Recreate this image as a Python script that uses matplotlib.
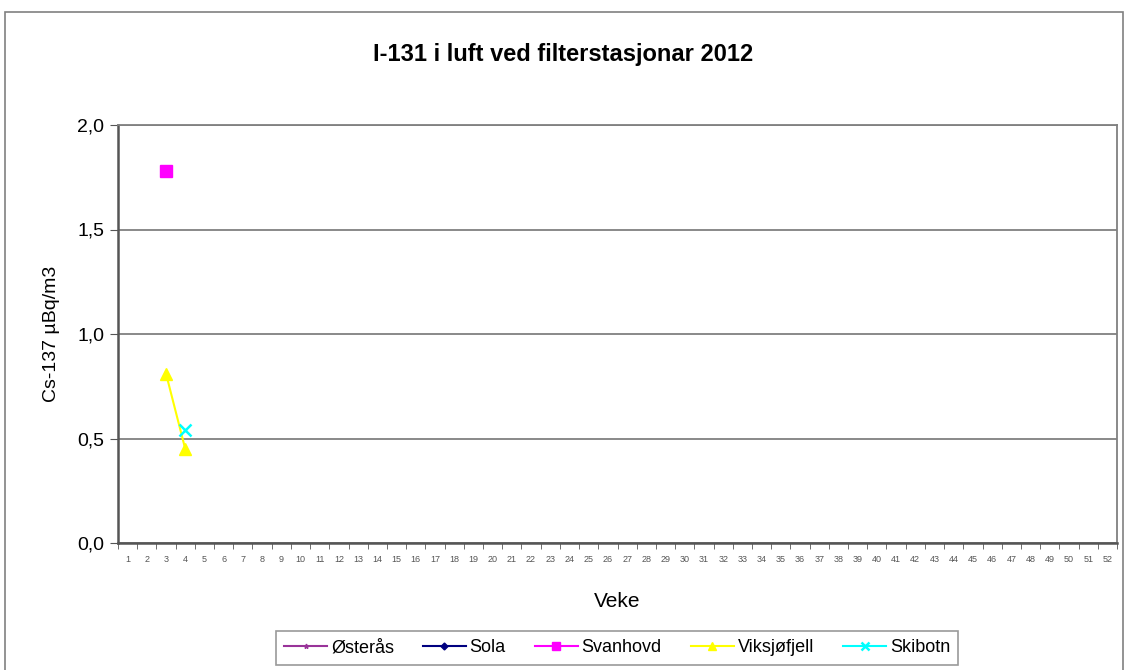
import matplotlib
matplotlib.use("Agg")
import matplotlib.pyplot as plt
from matplotlib.patches import Rectangle
import numpy as np

plt.rcParams["font.family"] = ["Liberation Sans", "DejaVu Sans"]

WEEKS = list(range(1, 53))
STATIONS = ["Østerås", "Sola", "Svanhovd", "Viksjøfjell", "Skibotn"]
COLORS = ["#993399", "#000080", "#ff00ff", "#ffff00", "#00ffff"]
MARKERS = ["*", "D", "s", "^", "x"]

# measured values per station: (weeks, values)
osteras_weeks, osteras_vals = [], []
sola_weeks, sola_vals = [], []
svanhovd_weeks, svanhovd_vals = [3], [1.78]
viksjofjell_weeks, viksjofjell_vals = [3, 4], [0.81, 0.45]
skibotn_weeks, skibotn_vals = [4], [0.54]

series = [
    (osteras_weeks, osteras_vals),
    (sola_weeks, sola_vals),
    (svanhovd_weeks, svanhovd_vals),
    (viksjofjell_weeks, viksjofjell_vals),
    (skibotn_weeks, skibotn_vals),
]

fig = plt.figure(figsize=(11.28, 6.70), dpi=100)
W, H = 1128, 670
ax = fig.add_axes([118 / W, 1 - 543 / H, (1117 - 118) / W, (543 - 125) / H])

# outer chart frame
fig.patches.append(Rectangle((5 / W, -0.05), (1123 - 5) / W, (1 - 12 / H) + 0.05,
                             transform=fig.transFigure, fill=False,
                             edgecolor="#808080", linewidth=1.2))

for name, color, marker, (wk, vals) in zip(STATIONS, COLORS, MARKERS, series):
    ms = 8 if marker in ("s", "^", "x") else 5
    ax.plot(wk, vals, color=color, marker=marker, markersize=ms,
            markeredgewidth=1.8 if marker == "x" else 1, linewidth=1.5, label=name)

ax.set_xlim(0.5, 52.5)
ax.set_ylim(0, 2.0)
ax.set_yticks([0, 0.5, 1.0, 1.5, 2.0])
ax.set_yticklabels(["0,0", "0,5", "1,0", "1,5", "2,0"], fontsize=14)
ax.set_xticks(WEEKS)
ax.set_xticklabels([str(w) for w in WEEKS], fontsize=6.5, color="#555555")
ax.set_xticks(np.arange(0.5, 53, 1), minor=True)
ax.tick_params(axis="x", which="major", length=0, pad=9)
ax.tick_params(axis="x", which="minor", length=4, direction="out", color="#555555")
ax.tick_params(axis="y", length=6, direction="out", color="#555555", pad=4)

ax.yaxis.grid(True, color="#808080", linewidth=1.3)
ax.set_axisbelow(True)
for side in ("left", "bottom"):
    ax.spines[side].set_color("#555555")
    ax.spines[side].set_linewidth(1.8)
for side in ("right", "top"):
    ax.spines[side].set_color("#808080")
    ax.spines[side].set_linewidth(1.3)

ax.set_xlabel("Veke", fontsize=15, labelpad=20)
ax.set_ylabel("Cs-137 µBq/m3", fontsize=14, labelpad=12)
fig.text(563 / W, 1 - 55 / H, "I-131 i luft ved filterstasjonar 2012",
         ha="center", va="center", fontsize=17, fontweight="bold")

leg = fig.legend(loc="center", bbox_to_anchor=(617 / W, 22 / H), ncol=5,
                 fontsize=13, frameon=True, fancybox=False, edgecolor="#808080",
                 handlelength=2.4, handletextpad=0.2, columnspacing=1.6,
                 markerscale=0.7, borderpad=0.45, borderaxespad=0)
leg.get_frame().set_linewidth(1.2)

fig.savefig("out.png", dpi=100)
